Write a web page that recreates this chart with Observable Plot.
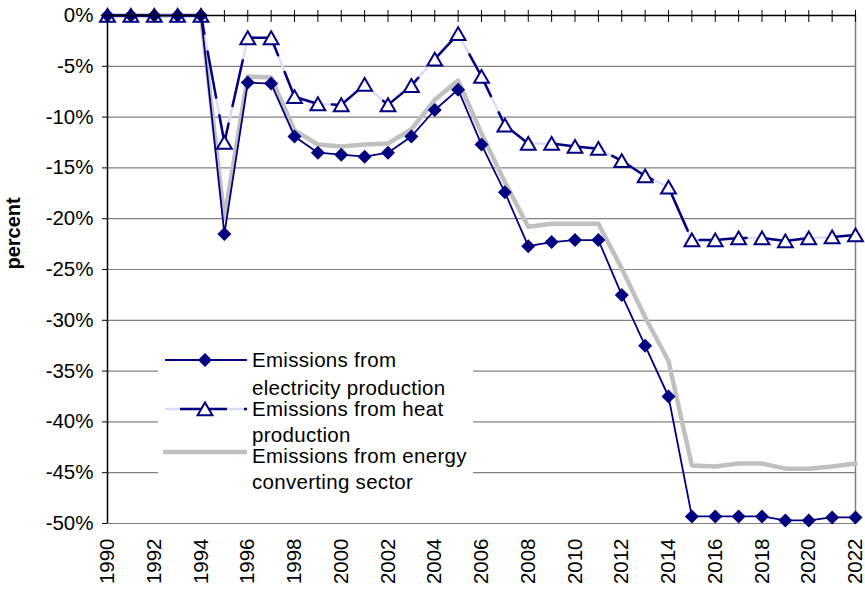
<!DOCTYPE html>
<html>
<head>
<meta charset="utf-8">
<script src="https://cdn.jsdelivr.net/npm/d3@7"></script>
<script src="https://cdn.jsdelivr.net/npm/@observablehq/plot@0.6"></script>
<style>
  html, body { margin: 0; padding: 0; background: white; }
  #wrap { position: relative; width: 865px; height: 590px; font-family: 'Liberation Sans', Arial, sans-serif; }
  #legend { position: absolute; left: 0; top: 0; pointer-events: none; }
</style>
</head>
<body>
<div id="wrap"></div>
<script>
const years = [1990,1991,1992,1993,1994,1995,1996,1997,1998,1999,2000,2001,2002,2003,2004,2005,2006,2007,2008,2009,2010,2011,2012,2013,2014,2015,2016,2017,2018,2019,2020,2021,2022];
const electricity = [0,0,0,0,0,-21.5,-6.6,-6.7,-11.9,-13.5,-13.7,-13.9,-13.5,-11.9,-9.3,-7.3,-12.7,-17.4,-22.7,-22.3,-22.1,-22.1,-27.5,-32.5,-37.5,-49.3,-49.3,-49.3,-49.3,-49.7,-49.7,-49.4,-49.4];
const heat = [0,0,0,0,0,-12.5,-2.2,-2.2,-8.0,-8.7,-8.8,-6.8,-8.8,-6.9,-4.3,-1.8,-6.0,-10.8,-12.6,-12.6,-12.9,-13.1,-14.3,-15.8,-16.9,-22.1,-22.1,-21.9,-21.9,-22.2,-21.9,-21.8,-21.6];
const energy = [0,0,0,0,0,-20.0,-6.0,-6.1,-11.3,-12.7,-12.9,-12.7,-12.6,-11.2,-8.3,-6.4,-11.6,-16.4,-20.8,-20.5,-20.5,-20.5,-24.9,-29.7,-34.0,-44.3,-44.4,-44.1,-44.1,-44.6,-44.6,-44.4,-44.1];
const yTicks = [0,-5,-10,-15,-20,-25,-30,-35,-40,-45,-50];
const xTickLabels = [1990,1992,1994,1996,1998,2000,2002,2004,2006,2008,2010,2012,2014,2016,2018,2020,2022];
const seriesNames = ["Emissions from|electricity production", "Emissions from heat|production", "Emissions from energy|converting sector"];
const yLabel = "percent";

const rows = years.map((y, i) => ({year: y, elec: electricity[i], heat: heat[i], energy: energy[i]}));
const NAVY = "#000080";
const GRAY = "#c0c0c0";
const LAV = "#dcdcf8";

const chart = Plot.plot({
  width: 865,
  height: 590,
  marginLeft: 107,
  marginRight: 10,
  marginTop: 15,
  marginBottom: 67,
  style: {fontFamily: "'Liberation Sans', Arial, sans-serif", fontSize: "20px", color: "black", background: "white", overflow: "visible"},
  x: {domain: [1990, 2022]},
  y: {domain: [-50, 0]},
  marks: [
    Plot.gridY(yTicks.filter(d => d < 0), {stroke: "#808080", strokeOpacity: 1, strokeWidth: 1.2}),
    Plot.ruleX([years[years.length - 1]], {stroke: "#808080", strokeWidth: 1.5}),
    Plot.lineY(rows, {x: "year", y: "energy", stroke: GRAY, strokeWidth: 4.5}),
    Plot.lineY(rows, {x: "year", y: "heat", stroke: LAV, strokeWidth: 2.5}),
    Plot.lineY(rows, {x: "year", y: "heat", stroke: NAVY, strokeWidth: 2.5, strokeDasharray: "47,18"}),
    Plot.lineY(rows, {x: "year", y: "elec", stroke: NAVY, strokeWidth: 1.8}),
    Plot.dot(rows, {x: "year", y: "heat", symbol: "triangle", r: 5.5, fill: "white", stroke: NAVY, strokeWidth: 2, dy: 2}),
    Plot.dot(rows, {x: "year", y: "elec", symbol: "diamond2", r: 6.3, fill: NAVY, stroke: "none"}),
    Plot.ruleX([years[0]], {stroke: "black", strokeWidth: 1.5}),
    Plot.ruleY([0], {stroke: "black", strokeWidth: 1.5}),
    Plot.axisY({ticks: yTicks, tickFormat: d => `${d}%`, tickSize: 5, tickPadding: 9, label: null, fontSize: 20.5, stroke: "black"}),
    Plot.axisX({anchor: "top", ticks: years, tickSize: 12, dy: 6, tickFormat: () => "", label: null, stroke: "black"}),
    Plot.axisX({anchor: "bottom", ticks: xTickLabels, tickSize: 0, tickPadding: 15, tickRotate: -90, tickFormat: d => String(d), label: null, fontSize: 20.5}),
    Plot.text([yLabel], {frameAnchor: "left", dx: -94, rotate: -90, fontWeight: "bold", fontSize: 20, fill: "black"})
  ]
});

const wrap = document.getElementById("wrap");
wrap.appendChild(chart);

// Legend overlay
const lg = d3.select(wrap).append("svg").attr("id", "legend").attr("width", 865).attr("height", 590);
lg.append("rect").attr("x", 158).attr("y", 336).attr("width", 315).attr("height", 158).attr("fill", "white");
// entry 1
lg.append("line").attr("x1", 165).attr("x2", 247).attr("y1", 360).attr("y2", 360).attr("stroke", NAVY).attr("stroke-width", 1.8);
lg.append("path").attr("d", d3.symbol(d3.symbolDiamond2, Math.PI * 6.3 * 6.3)()).attr("transform", "translate(205,360)").attr("fill", NAVY);
// entry 2
lg.append("line").attr("x1", 165).attr("x2", 247).attr("y1", 409).attr("y2", 409).attr("stroke", LAV).attr("stroke-width", 2.5);
lg.append("line").attr("x1", 180).attr("x2", 227).attr("y1", 409).attr("y2", 409).attr("stroke", NAVY).attr("stroke-width", 2.5);
lg.append("line").attr("x1", 244).attr("x2", 247).attr("y1", 409).attr("y2", 409).attr("stroke", NAVY).attr("stroke-width", 2.5);
lg.append("path").attr("d", d3.symbol(d3.symbolTriangle, Math.PI * 5.5 * 5.5)()).attr("transform", "translate(205,411)").attr("fill", "white").attr("stroke", NAVY).attr("stroke-width", 2);
// entry 3
lg.append("line").attr("x1", 163).attr("x2", 247).attr("y1", 452).attr("y2", 452).attr("stroke", GRAY).attr("stroke-width", 4.5);
const baselines = [[367, 395], [416, 442], [463, 489]];
seriesNames.forEach((name, i) => {
  const parts = name.split("|");
  parts.forEach((p, j) => {
    lg.append("text").attr("x", 252).attr("y", baselines[i][j])
      .attr("font-family", "'Liberation Sans', Arial, sans-serif").attr("font-size", 20.5)
      .attr("letter-spacing", "0.3px")
      .attr("fill", "black").text(p);
  });
});
</script>
</body>
</html>
